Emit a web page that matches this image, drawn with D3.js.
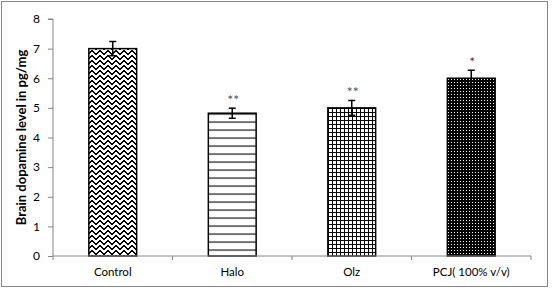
<!DOCTYPE html>
<html lang="en">
<head>
    <meta charset="UTF-8">
    <title>Brain dopamine level</title>
    <script src="https://d3js.org/d3.v7.min.js"></script>
    <style>
        body { margin: 0; padding: 0; background: #fff; }
        svg { display: block; }
        text { font-family: Lato, "Noto Sans", sans-serif; fill: #000; }
    </style>
</head>
<body>
    <svg id="chart" width="558" height="298"></svg>
    <script>
        // Chart data
        const groups = ['Control', 'Halo', 'Olz', 'PCJ( 100% v/v)'];
        const dopamine = [7.0, 4.82, 5.0, 6.0];
        const errors = [0.24, 0.17, 0.25, 0.27];
        const marks = ['', '**', '**', '*'];
        const yTicks = [0, 1, 2, 3, 4, 5, 6, 7, 8];

        const svg = d3.select('#chart');
        const margin = {left: 53, right: 28, top: 19, bottom: 42};
        const width = 558, height = 298;

        // outer frame
        svg.append('rect')
            .attr('x', 1.5).attr('y', 1.5)
            .attr('width', 546).attr('height', 285)
            .attr('fill', '#fff')
            .attr('stroke', '#868686')
            .attr('stroke-width', 1);

        // fill patterns
        const defs = svg.append('defs');

        // zigzag, drawn pixel by pixel (8x5 tile)
        const zig = defs.append('pattern')
            .attr('id', 'zigzag').attr('patternUnits', 'userSpaceOnUse')
            .attr('width', 8).attr('height', 5);
        zig.append('rect').attr('width', 8).attr('height', 5).attr('fill', '#fff');
        const zigPix = [];
        for (let r = 0; r < 4; r++) {
            zigPix.push([3 - r, r], [3 - r, r + 1], [4 + r, r], [4 + r, r + 1]);
        }
        zig.selectAll('rect.p')
            .data(zigPix)
            .enter()
            .append('rect')
            .attr('class', 'p')
            .attr('x', d => d[0]).attr('y', d => d[1] % 5)
            .attr('width', 1).attr('height', 1)
            .attr('fill', '#000');

        const hor = defs.append('pattern')
            .attr('id', 'hlines').attr('patternUnits', 'userSpaceOnUse')
            .attr('width', 8).attr('height', 8).attr('y', 1.5);
        hor.append('rect').attr('width', 8).attr('height', 8).attr('fill', '#fff');
        hor.append('rect').attr('y', 0).attr('width', 8).attr('height', 1.1).attr('fill', '#000');

        const grid = defs.append('pattern')
            .attr('id', 'grid').attr('patternUnits', 'userSpaceOnUse')
            .attr('width', 4).attr('height', 4);
        grid.append('rect').attr('width', 4).attr('height', 4).attr('fill', '#fff');
        grid.append('rect').attr('width', 4).attr('height', 1).attr('fill', '#000');
        grid.append('rect').attr('width', 1).attr('height', 4).attr('fill', '#000');

        const dots = defs.append('pattern')
            .attr('id', 'dots').attr('patternUnits', 'userSpaceOnUse')
            .attr('width', 3).attr('height', 3);
        dots.append('rect').attr('width', 3).attr('height', 3).attr('fill', '#000');
        dots.append('rect').attr('x', 1).attr('y', 1).attr('width', 1).attr('height', 1).attr('fill', '#fff');

        const fills = ['url(#zigzag)', 'url(#hlines)', 'url(#grid)', 'url(#dots)'];

        // scales
        const x = d3.scaleBand()
            .domain(groups)
            .range([margin.left, width - margin.right + 1])
            .paddingInner(0.6)
            .paddingOuter(0.3);
        const y = d3.scaleLinear()
            .domain([0, 8])
            .range([height - margin.bottom, margin.top]);

        // y axis
        const yAxis = svg.append('g')
            .attr('transform', `translate(${margin.left},0)`)
            .call(d3.axisLeft(y).tickValues(yTicks).tickSize(5).tickPadding(8));
        yAxis.select('.domain').attr('stroke', '#868686').attr('d', `M-5,${y(8)}H0V${y(0)}`);
        yAxis.selectAll('.tick line').attr('stroke', '#868686');
        yAxis.selectAll('.tick text').style('font-size', '12px');

        // bars
        const bars = svg.append('g');
        bars.selectAll('rect')
            .data(dopamine)
            .enter()
            .append('rect')
            .attr('x', (d, i) => x(groups[i]))
            .attr('y', d => y(d))
            .attr('width', x.bandwidth())
            .attr('height', d => y(0) - y(d))
            .attr('fill', (d, i) => fills[i])
            .attr('stroke', '#000')
            .attr('stroke-width', 1.5);

        // x axis
        const step = (width - margin.right + 1 - margin.left) / groups.length;
        const xAxis = svg.append('g')
            .attr('transform', `translate(0,${y(0)})`);
        xAxis.append('line')
            .attr('x1', margin.left).attr('x2', width - margin.right + 1)
            .attr('stroke', '#868686');
        xAxis.selectAll('.tk')
            .data(d3.range(groups.length + 1))
            .enter()
            .append('line')
            .attr('x1', d => margin.left + d * step).attr('x2', d => margin.left + d * step)
            .attr('y1', 0).attr('y2', 4)
            .attr('stroke', '#868686');
        xAxis.selectAll('.lbl')
            .data(groups)
            .enter()
            .append('text')
            .attr('x', d => x(d) + x.bandwidth() / 2)
            .attr('y', 20)
            .attr('text-anchor', 'middle')
            .style('font-size', '11.5px')
            .text(d => d);

        // error bars
        const eb = svg.append('g').attr('stroke', '#000').attr('stroke-width', 1.5);
        dopamine.forEach((d, i) => {
            const cx = x(groups[i]) + x.bandwidth() / 2;
            eb.append('line').attr('x1', cx).attr('x2', cx)
                .attr('y1', y(d + errors[i])).attr('y2', y(d - errors[i]));
            eb.append('line').attr('x1', cx - 3.5).attr('x2', cx + 3.5)
                .attr('y1', y(d + errors[i])).attr('y2', y(d + errors[i]));
            eb.append('line').attr('x1', cx - 3.5).attr('x2', cx + 3.5)
                .attr('y1', y(d - errors[i])).attr('y2', y(d - errors[i]));
        });

        // significance marks
        svg.selectAll('.sig')
            .data(marks)
            .enter()
            .append('text')
            .attr('x', (d, i) => x(groups[i]) + x.bandwidth() / 2 + 1)
            .attr('y', (d, i) => y(dopamine[i] + errors[i]) - 3)
            .attr('text-anchor', 'middle')
            .style('font-size', '14px')
            .style('fill', (d, i) => i === 3 ? '#7a2a2a' : '#555')
            .text(d => d);

        // y label
        svg.append('text')
            .attr('transform', `translate(26,${(y(0) + y(8)) / 2}) rotate(-90)`)
            .attr('text-anchor', 'middle')
            .style('font-size', '13px')
            .style('font-weight', 'bold')
            .text('Brain dopamine level in pg/mg');
    </script>
</body>
</html>
